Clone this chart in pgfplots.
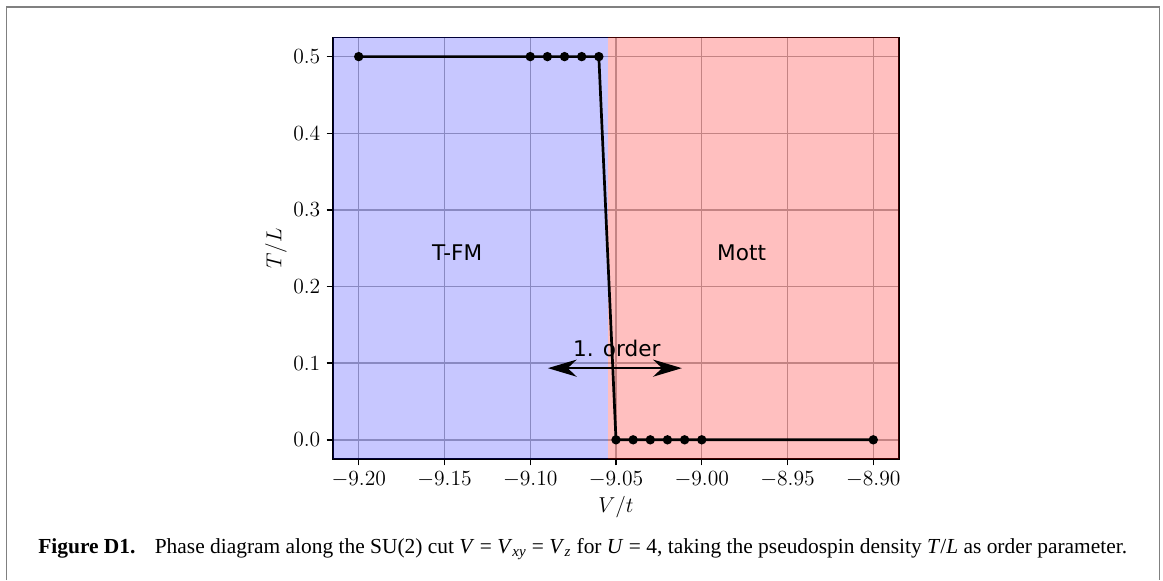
\documentclass[border=0pt]{standalone}
\usepackage{fontspec}
\setmainfont{Liberation Serif}
\newfontfamily\dejavu{DejaVu Sans}
\usepackage{pgfplots}
\pgfplotsset{compat=1.18}
\usetikzlibrary{arrows.meta}

\definecolor{gridgray}{HTML}{B0B0B0}
\definecolor{framegray}{HTML}{808080}

\begin{document}
\begin{tikzpicture}[x=0.5556pt,y=0.5556pt]
\useasboundingbox (0,0) rectangle (1163,-580);
\draw[framegray, line width=0.9pt] (6.5,-580) -- (6.5,-7) -- (1159.5,-7) -- (1159.5,-580);

\begin{axis}[
    at={(185.0pt,-255.0pt)}, anchor=south west,
    width=314.5pt, height=234.2pt, scale only axis,
    xmin=-9.215, xmax=-8.885, ymin=-0.025, ymax=0.525,
    xtick={-9.2,-9.15,-9.1,-9.05,-9.0,-8.95,-8.9},
    ytick={0,0.1,0.2,0.3,0.4,0.5},
    grid=major,
    major grid style={gridgray, line width=0.8pt},
    axis line style={line width=0.8pt},
    tick pos=left, tick align=outside, major tick length=3.5pt,
    every tick/.style={black, line width=0.8pt},
    tick label style={font=\fontsize{11.5}{13}\selectfont},
    xticklabel style={/pgf/number format/.cd, fixed, fixed zerofill, precision=2},
    yticklabel style={/pgf/number format/.cd, fixed, fixed zerofill, precision=1},
    xlabel={$V/t$}, ylabel={$T/L$},
    label style={font=\fontsize{12}{14}\selectfont},
    xlabel style={at={(axis description cs:0.5,-0.126)}, anchor=base},
    ylabel style={at={(axis description cs:-0.1007,0.5)}, anchor=center},
]
% phase regions
\addplot[draw=none, fill=blue, fill opacity=0.22]
    coordinates {(-9.215,-0.03) (-9.0546,-0.03) (-9.0546,0.53) (-9.215,0.53)};
\addplot[draw=none, fill=red, fill opacity=0.25]
    coordinates {(-9.0546,-0.03) (-8.885,-0.03) (-8.885,0.53) (-9.0546,0.53)};

% order parameter
\addplot[black, line width=1.5pt, mark=*, mark size=1.8pt] coordinates {
    (-9.20,0.5) (-9.10,0.5) (-9.09,0.5) (-9.08,0.5) (-9.07,0.5) (-9.06,0.5)
    (-9.05,0) (-9.04,0) (-9.03,0) (-9.02,0) (-9.01,0) (-9.00,0) (-8.90,0)};

% first-order arrow
\addplot[black, line width=0.9pt,
    {Stealth[length=16pt,width=9.5pt,inset=5pt]}-{Stealth[length=16pt,width=9.5pt,inset=5pt]}]
    coordinates {(-9.0897,0.0935) (-9.0116,0.0935)};

\node[anchor=base west, inner sep=0pt, font=\dejavu\fontsize{12}{14}\selectfont] at (axis cs:-9.1574,0.2338) {T-FM};
\node[anchor=base west, inner sep=0pt, font=\dejavu\fontsize{12}{14}\selectfont] at (axis cs:-8.9912,0.2338) {Mott};
\node[anchor=base west, inner sep=0pt, font=\dejavu\fontsize{12}{14}\selectfont] at (axis cs:-9.0752,0.1086) {1. order};
\end{axis}

\node[anchor=base west, inner sep=0pt, font=\fontsize{11.9}{13}\selectfont] at (38,-553)
  {\textbf{Figure D1.}\hspace{0.9em}Phase diagram along the SU(2) cut \textit{V}~=~\textit{V}\textsubscript{\textit{xy}}~=~\textit{V}\textsubscript{\textit{z}} for \textit{U}~=~4, taking the pseudospin density \textit{T}/\textit{L} as order parameter.};
\end{tikzpicture}
\end{document}
